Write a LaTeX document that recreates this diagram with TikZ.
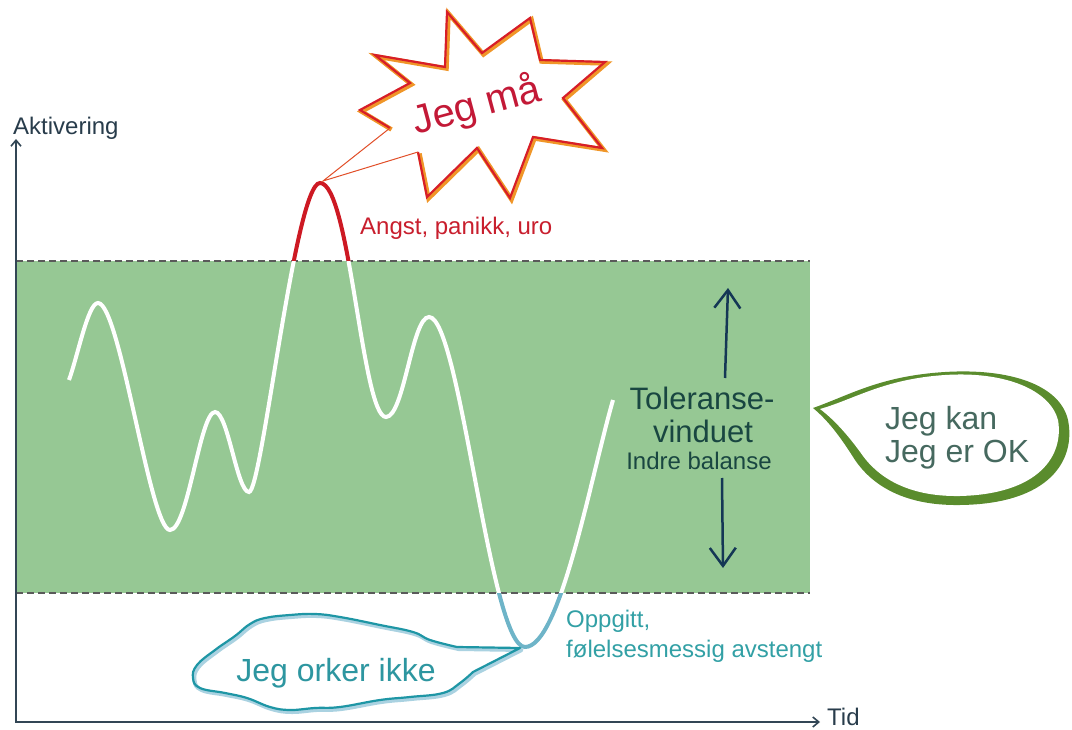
\documentclass[tikz,border=0pt]{standalone}
\usepackage{fontspec}
\setmainfont{Liberation Sans}
\usetikzlibrary{arrows.meta}
\definecolor{band}{RGB}{150,200,148}
\definecolor{dashc}{RGB}{90,90,90}
\definecolor{axisc}{RGB}{50,70,85}
\definecolor{aktivc}{RGB}{40,60,75}
\definecolor{redtxt}{RGB}{200,30,45}
\definecolor{redwave}{RGB}{205,25,35}
\definecolor{cyanwave}{RGB}{110,180,200}
\definecolor{tealtxt}{RGB}{50,160,165}
\definecolor{cloudteal}{RGB}{30,150,165}
\definecolor{cloudlight}{RGB}{170,210,225}
\definecolor{cloudtxt}{RGB}{45,150,160}
\definecolor{toltxt}{RGB}{25,70,65}
\definecolor{tolarrow}{RGB}{20,55,85}
\definecolor{leafgreen}{RGB}{90,140,45}
\definecolor{leaftxt}{RGB}{70,105,95}
\definecolor{starred}{RGB}{215,30,40}
\definecolor{starorange}{RGB}{240,150,40}
\definecolor{startxt}{RGB}{195,25,55}
\tikzset{
  wave/.style={line width=4pt},
  smalltxt/.style={inner sep=0pt, font=\fontsize{24}{28}\selectfont},
  bigtxt/.style={inner sep=0pt, font=\fontsize{31}{34}\selectfont},
  leaftext/.style={inner sep=0pt, font=\fontsize{32}{34}\selectfont, text=leaftxt},
  axisline/.style={draw=axisc, line width=2pt},
  tolarr/.style={draw=tolarrow, line width=2.5pt, -{Straight Barb[length=18pt,width=26pt,line width=2.5pt]}},
  dashline/.style={draw=dashc, line width=1.3pt, dash pattern=on 7pt off 4pt}
}
\def\wavepath{(69,380) .. controls (78,355) and (88,303) .. (98,303)
 .. controls (120,303) and (150,530) .. (170,530)
 .. controls (188,530) and (200,412) .. (215,412)
 .. controls (228,412) and (237,492) .. (249,492)
 .. controls (262,492) and (295,183) .. (320,183)
 .. controls (350,183) and (362,417) .. (386,417)
 .. controls (404,417) and (412,317) .. (429,317)
 .. controls (460,317) and (490,647) .. (525,647)
 .. controls (560,647) and (590,480) .. (613,400)}
\def\cloudpath{plot[smooth, tension=0.7] coordinates {(457,647) (430,640) (413,632) (380,625) (340,617) (315,614) (290,615) (265,618) (250,624) (235,636) (215,650) (197,665) (193,678) (200,688) (225,693) (247,698) (270,707) (290,710) (315,708) (340,707) (380,700) (410,697) (443,693) (460,683) (473,672)} -- (520,648) -- cycle}
\def\starpath{(390,128) -- (360,110) -- (410,83) -- (375,55) -- (445,67) -- (447,12) -- (482,53) -- (530,18) -- (540,60) -- (605,62) -- (563,98) -- (602,148) -- (533,137) -- (510,198) -- (477,148) -- (427,197) -- (418,152)}
\begin{document}
\begin{tikzpicture}[x=1pt,y=-1pt]
\useasboundingbox (0,0) rectangle (1072,730);
% band
\fill[band] (16,261) rectangle (810,593);
\coordinate (bl) at (16,261);
\coordinate (br) at (810,261);
\coordinate (cl) at (16,593);
\coordinate (cr) at (810,593);
\draw[dashline] (bl) -- (br);
\draw[dashline] (cl) -- (cr);
% axes
\coordinate (O) at (16,722);
\coordinate (ytip) at (16,139);
\coordinate (xtip) at (820,722);
\draw[axisline, {Straight Barb[length=6pt,width=10pt,line width=1.6pt]}-{Straight Barb[length=6pt,width=10pt,line width=1.6pt]}] (ytip) -- (O) -- (xtip);
\node[smalltxt, text=aktivc, anchor=base west] (akt) at (13,135) {Aktivering};
\node[smalltxt, text=aktivc, anchor=base west] (tid) at (827,725) {Tid};
% wave
\draw[wave, white] \wavepath;
\begin{scope}
  \clip (0,0) rectangle (1072,261);
  \draw[wave, redwave] \wavepath;
\end{scope}
\begin{scope}
  \clip (0,593) rectangle (1072,730);
  \draw[wave, cyanwave] \wavepath;
\end{scope}
% star
\coordinate (startail) at (323,181);
\fill[white] \starpath -- (startail) -- cycle;
\draw[starorange, line width=4.5pt, line join=miter, shift={(1.5,1.5)}] \starpath;
\draw[starred, line width=2.2pt, line join=miter] \starpath;
\draw[starred!60!starorange, line width=1pt] (418,152) -- (startail) -- (390,128);
\node[inner sep=0pt, text=startxt, rotate=15, font=\fontsize{40}{42}\selectfont] (jegma) at (477,106) {Jeg må};
\node[smalltxt, text=redtxt, anchor=base west] (angst) at (360,235) {Angst, panikk, uro};
% tolerance window
\node[bigtxt, text=toltxt, anchor=base] (tol1) at (702,409) {Toleranse-};
\node[bigtxt, text=toltxt, anchor=base] (tol2) at (703,442) {vinduet};
\node[smalltxt, text=toltxt, anchor=base] (tol3) at (699,469) {Indre balanse};
\coordinate (ua) at (725,378);
\coordinate (ub) at (728,288);
\coordinate (da) at (722,478);
\coordinate (db) at (723,568);
\draw[tolarr] (ua) -- (ub);
\draw[tolarr] (da) -- (db);
% leaf bubble
\fill[leafgreen] (813,408) .. controls (850,395) and (880,376) .. (945,372) .. controls (1010,368) and (1060,385) .. (1068,420) .. controls (1076,460) and (1050,504) .. (960,505) .. controls (900,506) and (870,482) .. (855,460) .. controls (843,441) and (830,422) .. (813,408) -- cycle;
\fill[white] (820,409) .. controls (855,399) and (884,379) .. (945,375) .. controls (1005,371) and (1050,390) .. (1058,420) .. controls (1064,455) and (1040,494) .. (960,496) .. controls (905,497) and (877,475) .. (863,456) .. controls (851,439) and (836,421) .. (820,409) -- cycle;
\node[leaftext, anchor=base west] (kan) at (885,429) {Jeg kan};
\node[leaftext, anchor=base west] (ok) at (885,462) {Jeg er OK};
% cloud
\fill[white] \cloudpath;
\draw[cloudlight, line width=4pt, line join=round, shift={(1.5,2)}] \cloudpath;
\draw[cloudteal, line width=2.2pt, line join=round] \cloudpath;
\node[inner sep=0pt, text=cloudtxt, font=\fontsize{32}{34}\selectfont] (orker) at (336,673) {Jeg orker ikke};
\node[smalltxt, text=tealtxt, anchor=base west] (opp1) at (566,627) {Oppgitt,};
\node[smalltxt, text=tealtxt, anchor=base west] (opp2) at (566,657) {følelsesmessig avstengt};
\end{tikzpicture}
\end{document}
